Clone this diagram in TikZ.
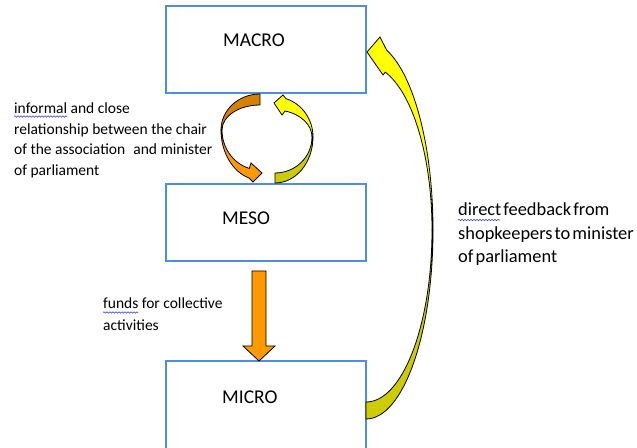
\documentclass[tikz,border=0pt]{standalone}
\usepackage{fontspec}
\setmainfont{Carlito}
\newfontfamily\tightsp{Carlito}[WordSpace=0.5]
\usetikzlibrary{decorations.pathmorphing,calc}
\definecolor{boxblue}{RGB}{80,140,225}
\definecolor{orgA}{RGB}{255,153,0}
\definecolor{orgB}{RGB}{214,128,0}
\definecolor{yelA}{RGB}{255,255,0}
\definecolor{yelB}{RGB}{204,204,0}
\definecolor{spell}{RGB}{60,60,230}
\begin{document}
\begin{tikzpicture}[x=1pt,y=1pt,
  levelbox/.style={draw=boxblue,line width=1.1pt,minimum width=200pt,inner sep=0pt},
  leveltext/.style={font=\fontsize{19.5}{23}\selectfont,anchor=base west,inner sep=0pt},
  note/.style={font=\fontsize{15.5}{20.7}\selectfont,align=left,anchor=north west,inner sep=0pt},
  shapeline/.style={draw=black,line width=0.8pt,line join=miter},
  wavy/.style={draw=spell,line width=0.6pt,decorate,decoration={snake,amplitude=0.7pt,segment length=3pt}}]
\useasboundingbox (0,0) rectangle (637,447);
\fill[white] (0,0) rectangle (637,447);
% level boxes
\node[levelbox,minimum height=87pt] (macro) at (266,397.5) {};
\node[levelbox,minimum height=77pt] (meso) at (266,224.5) {};
\node[levelbox,minimum height=88pt] (micro) at (266,42) {};
\node[leveltext] (macrolbl) at (223,400.7) {MACRO};
\node[leveltext] (mesolbl) at (222,222.7) {MESO};
\node[leveltext] (microlbl) at (222,43.7) {MICRO};
% notes
\node[note] (relnote) at (14,344.5) {informal and close\\relationship between the chair\\of the association\hspace{0.3em} and minister\\of parliament};
\node[note,font=\fontsize{15.5}{21.5}\selectfont] (fundnote) at (103,149) {funds for collective\\activities};
\node[note,font=\tightsp\fontsize{18.4}{23.5}\selectfont] (feedback) at (458,244) {direct feedback from\\shopkeepers to minister\\of parliament};
% spell-check underlines
\draw[wavy] (14,330.5) -- (67,330.5);
\draw[wavy] (103,134.5) -- (138,134.5);
\draw[wavy] (458,227) -- (500,227);
% meso -> micro arrow
\draw[shapeline,fill=orgA] (252,176) -- (266,176) -- (266,101) -- (275,101) -- (259,86) -- (243,101) -- (252,101) -- cycle;
% circular arrows between macro and meso
\draw[shapeline,fill=orgB] (260,353) arc[start angle=90,end angle=180,x radius=39,y radius=36] -- (222,317) arc[start angle=180,end angle=90,x radius=38,y radius=25] -- cycle;
\draw[shapeline,fill=orgA] (221,317) arc[start angle=180,end angle=253.6,x radius=39,y radius=50] -- (253,265) -- (262,274) -- (251,284) -- (249.27,278.6) arc[start angle=253.6,end angle=180,x radius=38,y radius=40] -- cycle;
\draw[shapeline,fill=yelA] (313,310) arc[start angle=0,end angle=73.2,x radius=38,y radius=40] -- (283,352) -- (274,344) -- (282,332) -- (285.0,336.0) arc[start angle=74.3,end angle=0,x radius=37,y radius=27] -- cycle;
\draw[shapeline,fill=yelB] (313,310) arc[start angle=0,end angle=-90,x radius=38,y radius=46] -- (275,274) arc[start angle=-90,end angle=0,x radius=37,y radius=36] -- cycle;
% micro -> macro feedback arrow
\draw[shapeline,fill=yelA] (433,217) arc[start angle=0,end angle=72,x radius=67,y radius=189] -- (380,410) -- (367,395) -- (383,372) -- (385.3,374.8) arc[start angle=73,end angle=0,x radius=66,y radius=165] -- cycle;
\draw[shapeline,fill=yelB] (433,217) arc[start angle=0,end angle=-90,x radius=67,y radius=189] -- (366,45) arc[start angle=-90,end angle=0,x radius=66,y radius=172] -- cycle;
\end{tikzpicture}
\end{document}
